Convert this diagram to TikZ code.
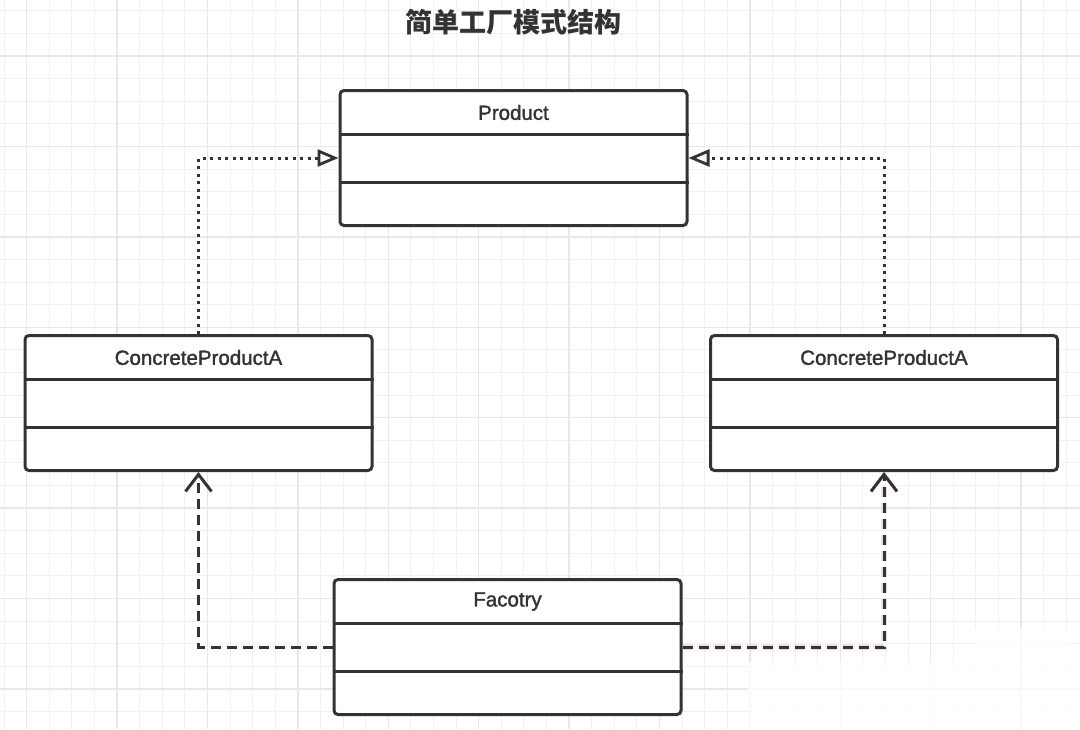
\documentclass[tikz,border=0pt]{standalone}
\usepackage{fontspec}
\setmainfont{Liberation Sans}
\newfontfamily\namefont{Liberation Sans}[FakeBold=1.6]
\newfontfamily\cjk{Noto Sans CJK SC}
\usetikzlibrary{arrows.meta}

\definecolor{ink}{HTML}{333333}
\definecolor{gridminor}{HTML}{F1F1F1}
\definecolor{gridmajor}{HTML}{E8E8E8}
\definecolor{glow}{HTML}{F5DCDC}

\tikzset{
  classbox/.style={draw=ink, fill=white, line width=3pt, rounded corners=4pt,
    minimum width=347pt, minimum height=135pt, inner sep=0pt},
  classname/.style={text=ink, font=\namefont\fontsize{20.5}{24}\selectfont},
  divider/.style={draw=ink, line width=3pt},
  realize/.style={draw=ink, line width=3pt, dash pattern=on 3pt off 4.5pt,
    -{Triangle[open, length=21pt, width=17pt, line width=2.8pt]}},
  depend/.style={draw=ink, line width=3pt, dash pattern=on 10pt off 6pt,
    -{Straight Barb[length=17pt, width=26pt, line width=3pt]}},
}

\begin{document}
\begin{tikzpicture}[x=1pt, y=-1pt]
    \useasboundingbox (0,0) rectangle (1080,729);
    \fill[white] (0,0) rectangle (1080,729);

    % Draw grid
    \foreach \i in {0,...,47}
        \draw[gridminor, line width=1pt] ({4.1+22.6*\i},0) -- ++(0,729);
    \foreach \j in {0,...,31}
        \draw[gridminor, line width=1pt] (0,{10.8+22.6*\j}) -- ++(1080,0);
    \foreach \i in {0,...,11}
        \draw[gridmajor, line width=1.4pt] ({26.7+90.4*\i},0) -- ++(0,729);
    \foreach \j in {0,...,7}
        \draw[gridmajor, line width=1.4pt] (0,{56+90.4*\j}) -- ++(1080,0);
    \fill[white, opacity=0.75] (748,662) rectangle (1080,729);
    \fill[white, opacity=0.75] (975,628) rectangle (1068,662);

    % Title
    \node[text=ink, font=\cjk\bfseries\fontsize{27}{31}\selectfont] (title) at (513,22) {简单工厂模式结构};

    % Draw class boxes
    \node[classbox] (product) at (513.5,158) {};
    \node[classbox] (concleft) at (198.5,403) {};
    \node[classbox] (concright) at (884,403) {};
    \node[classbox] (factory) at (507.5,647) {};

    % Draw compartments and names
    \foreach \c/\t in {product/Product, concleft/ConcreteProductA,
                       concright/ConcreteProductA, factory/Facotry} {
        \draw[divider] ([yshift=-45pt]\c.north west) -- ([yshift=-45pt]\c.north east);
        \draw[divider] ([yshift=45pt]\c.south west) -- ([yshift=45pt]\c.south east);
        \node[classname] (\c-name) at ([yshift=-23.5pt]\c.north) {\t};
    }

    % Realization
    \draw[realize] (concleft.north) |- (product.west);
    \draw[realize] (concright.north) |- (product.east);

    % Dependency
    \draw[depend] (factory.west) -| (concleft.south);
    \draw[depend, preaction={draw=glow, line width=6pt, dash pattern=on 10pt off 6pt}] (factory.east) -| (concright.south);
\end{tikzpicture}
\end{document}
